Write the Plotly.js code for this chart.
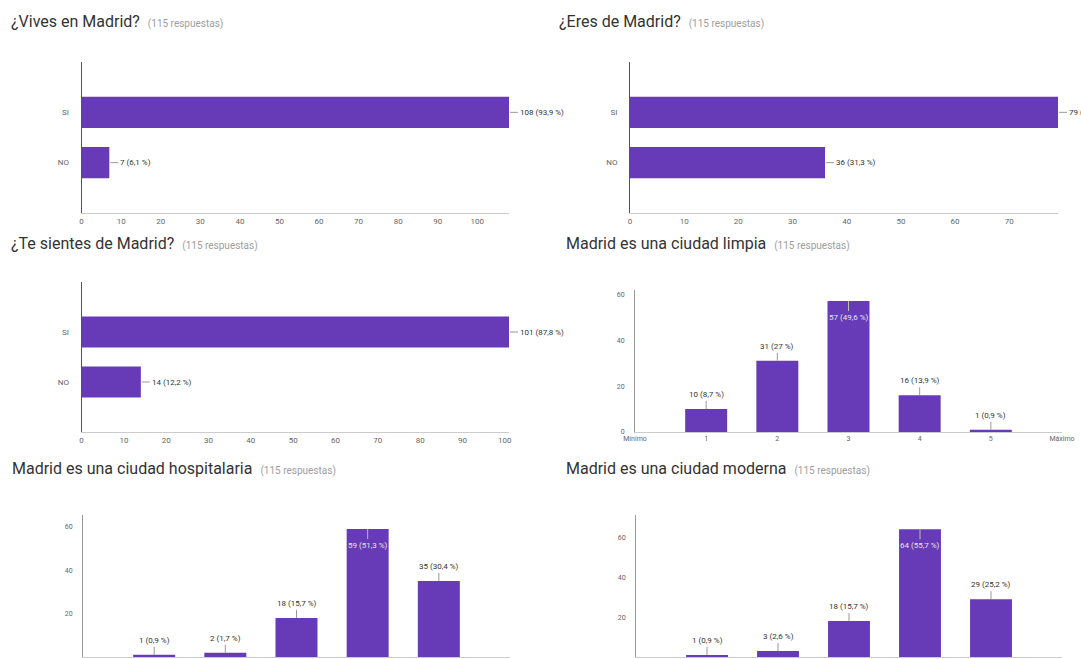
<!DOCTYPE html>
<html>
<head>
<meta charset="utf-8">
<script src="https://cdn.plot.ly/plotly-3.0.1.min.js"></script>
<style>html,body{margin:0;padding:0;background:#fff;}#chart{width:1081px;height:659px;}</style>
</head>
<body>
<div id="chart"></div>
<script>
// ---- data ----
const titles = [
  "¿Vives en Madrid?",
  "¿Eres de Madrid?",
  "¿Te sientes de Madrid?",
  "Madrid es una ciudad limpia",
  "Madrid es una ciudad hospitalaria",
  "Madrid es una ciudad moderna"
];
const subtitle = "(115 respuestas)";
const yesNoCats = ["SI", "NO"];
const vivesValues = [108, 7];
const eresValues = [79, 36];
const sientesValues = [101, 14];
const scaleCats = [1, 2, 3, 4, 5];
const scaleTickLabels = ["Mínimo", "1", "2", "3", "4", "5", "Máximo"];
const limpiaValues = [10, 31, 57, 16, 1];
const hospitalariaValues = [1, 2, 18, 59, 35];
const modernaValues = [1, 3, 18, 64, 29];
const scaleYTicks = [0, 20, 40, 60];

// ---- helpers ----
const W = 1081, H = 659;
const PURPLE = "#673ab7";
const FONT = "Roboto, Arial, sans-serif";
function dx(a, b) { return [a / W, b / W]; }
function dy(top, bottom) { return [1 - bottom / H, 1 - top / H]; }
function fmtPct(v, total) {
  const p = Math.round(v / total * 1000) / 10;
  const s = Number.isInteger(p) ? String(p) : p.toFixed(1).replace(".", ",");
  return v + " (" + s + " %)";
}
function sum(a) { return a.reduce((s, v) => s + v, 0); }

const data = [];
const annotations = [];
const layout = {
  width: W, height: H,
  margin: {l: 0, r: 0, t: 0, b: 0},
  paper_bgcolor: "#fff", plot_bgcolor: "#fff",
  showlegend: false,
  font: {family: FONT, color: "#444", size: 8},
  annotations: annotations
};

// horizontal charts
const hCharts = [
  {vals: vivesValues, xd: dx(81.6, 509), yd: dy(62, 213), title: titles[0], tx: 9, ty: 22},
  {vals: eresValues, xd: dx(630, 1058), yd: dy(62, 213), title: titles[1], tx: 557, ty: 22},
  {vals: sientesValues, xd: dx(81.6, 509), yd: dy(282, 432), title: titles[2], tx: 9, ty: 243}
];
// vertical charts
const vCharts = [
  {vals: limpiaValues, xd: dx(635, 1062), yd: dy(290, 432), ymax: 61.8, title: titles[3], tx: 564, ty: 243},
  {vals: hospitalariaValues, xd: dx(83, 510), yd: dy(515, 657), ymax: 65.4, title: titles[4], tx: 10, ty: 468},
  {vals: modernaValues, xd: dx(636, 1062), yd: dy(515, 657), ymax: 71.2, title: titles[5], tx: 564, ty: 468}
];

let idx = 1;
function addTitle(c) {
  annotations.push({
    xref: "paper", yref: "paper", x: c.tx / W, y: 1 - c.ty / H,
    xanchor: "left", yanchor: "middle", showarrow: false,
    text: c.title + "  <span style='font-size:10px;color:#9e9e9e'>" + subtitle + "</span>",
    font: {family: FONT, size: 16, color: "#333"}
  });
}

hCharts.forEach(c => {
  const xa = "x" + (idx === 1 ? "" : idx), ya = "y" + (idx === 1 ? "" : idx);
  const total = sum(c.vals);
  data.push({
    type: "bar", orientation: "h", x: c.vals, y: yesNoCats,
    xaxis: xa, yaxis: ya, width: 0.62,
    marker: {color: PURPLE, line: {width: 0}}, hoverinfo: "none"
  });
  const mx = Math.max(...c.vals);
  layout["xaxis" + (idx === 1 ? "" : idx)] = {
    domain: c.xd, anchor: ya, range: [0, mx], tick0: 0, dtick: 10,
    showgrid: false, zeroline: false, showline: true, linecolor: "#ccc", linewidth: 1,
    ticks: "", tickfont: {size: 8, color: "#666", family: FONT}, fixedrange: true
  };
  layout["yaxis" + (idx === 1 ? "" : idx)] = {
    domain: c.yd, anchor: xa, type: "category", categoryarray: yesNoCats,
    range: [2, -1], showgrid: false, zeroline: false, showline: true,
    linecolor: "#555", linewidth: 1, ticks: "", ticklabelstandoff: 10,
    tickfont: {size: 8, color: "#666", family: FONT}, fixedrange: true
  };
  c.vals.forEach((v, i) => {
    annotations.push({
      xref: xa, yref: ya, x: v, y: yesNoCats[i], text: fmtPct(v, total),
      showarrow: true, arrowhead: 0, arrowwidth: 1, arrowcolor: "#999",
      ax: 9, ay: 0, xanchor: "left", yanchor: "middle", standoff: 1,
      font: {size: 8, color: "#333", family: FONT}
    });
  });
  addTitle(c);
  idx++;
});

vCharts.forEach(c => {
  const xa = "x" + idx, ya = "y" + idx;
  const total = sum(c.vals);
  data.push({
    type: "bar", x: scaleCats, y: c.vals, xaxis: xa, yaxis: ya, width: 0.59,
    marker: {color: PURPLE, line: {width: 0}}, hoverinfo: "none"
  });
  layout["xaxis" + idx] = {
    domain: c.xd, anchor: ya, range: [0, 6], tickvals: [0, 1, 2, 3, 4, 5, 6],
    ticktext: scaleTickLabels, showgrid: false, zeroline: false, showline: true,
    linecolor: "#ccc", linewidth: 1, ticks: "",
    tickfont: {size: 7, color: "#666", family: FONT}, fixedrange: true
  };
  layout["yaxis" + idx] = {
    domain: c.yd, anchor: xa, range: [0, c.ymax], tickvals: scaleYTicks,
    showgrid: false, zeroline: false, showline: true, linecolor: "#999", linewidth: 1,
    ticks: "", ticklabelstandoff: 8,
    tickfont: {size: 7, color: "#666", family: FONT}, fixedrange: true
  };
  c.vals.forEach((v, i) => {
    const inside = v / c.ymax > 0.85;
    annotations.push({
      xref: xa, yref: ya, x: scaleCats[i], y: v, text: fmtPct(v, total),
      showarrow: true, arrowhead: 0, arrowwidth: 1, arrowcolor: inside ? "#bbb" : "#999",
      ax: 0, ay: inside ? 10 : -8, xanchor: "center", yanchor: inside ? "top" : "bottom",
      standoff: 0, font: {size: 8, color: inside ? "#e6e6e6" : "#333", family: FONT}
    });
  });
  addTitle(c);
  idx++;
});

Plotly.newPlot("chart", data, layout, {displayModeBar: false, staticPlot: true});
</script>
</body>
</html>
